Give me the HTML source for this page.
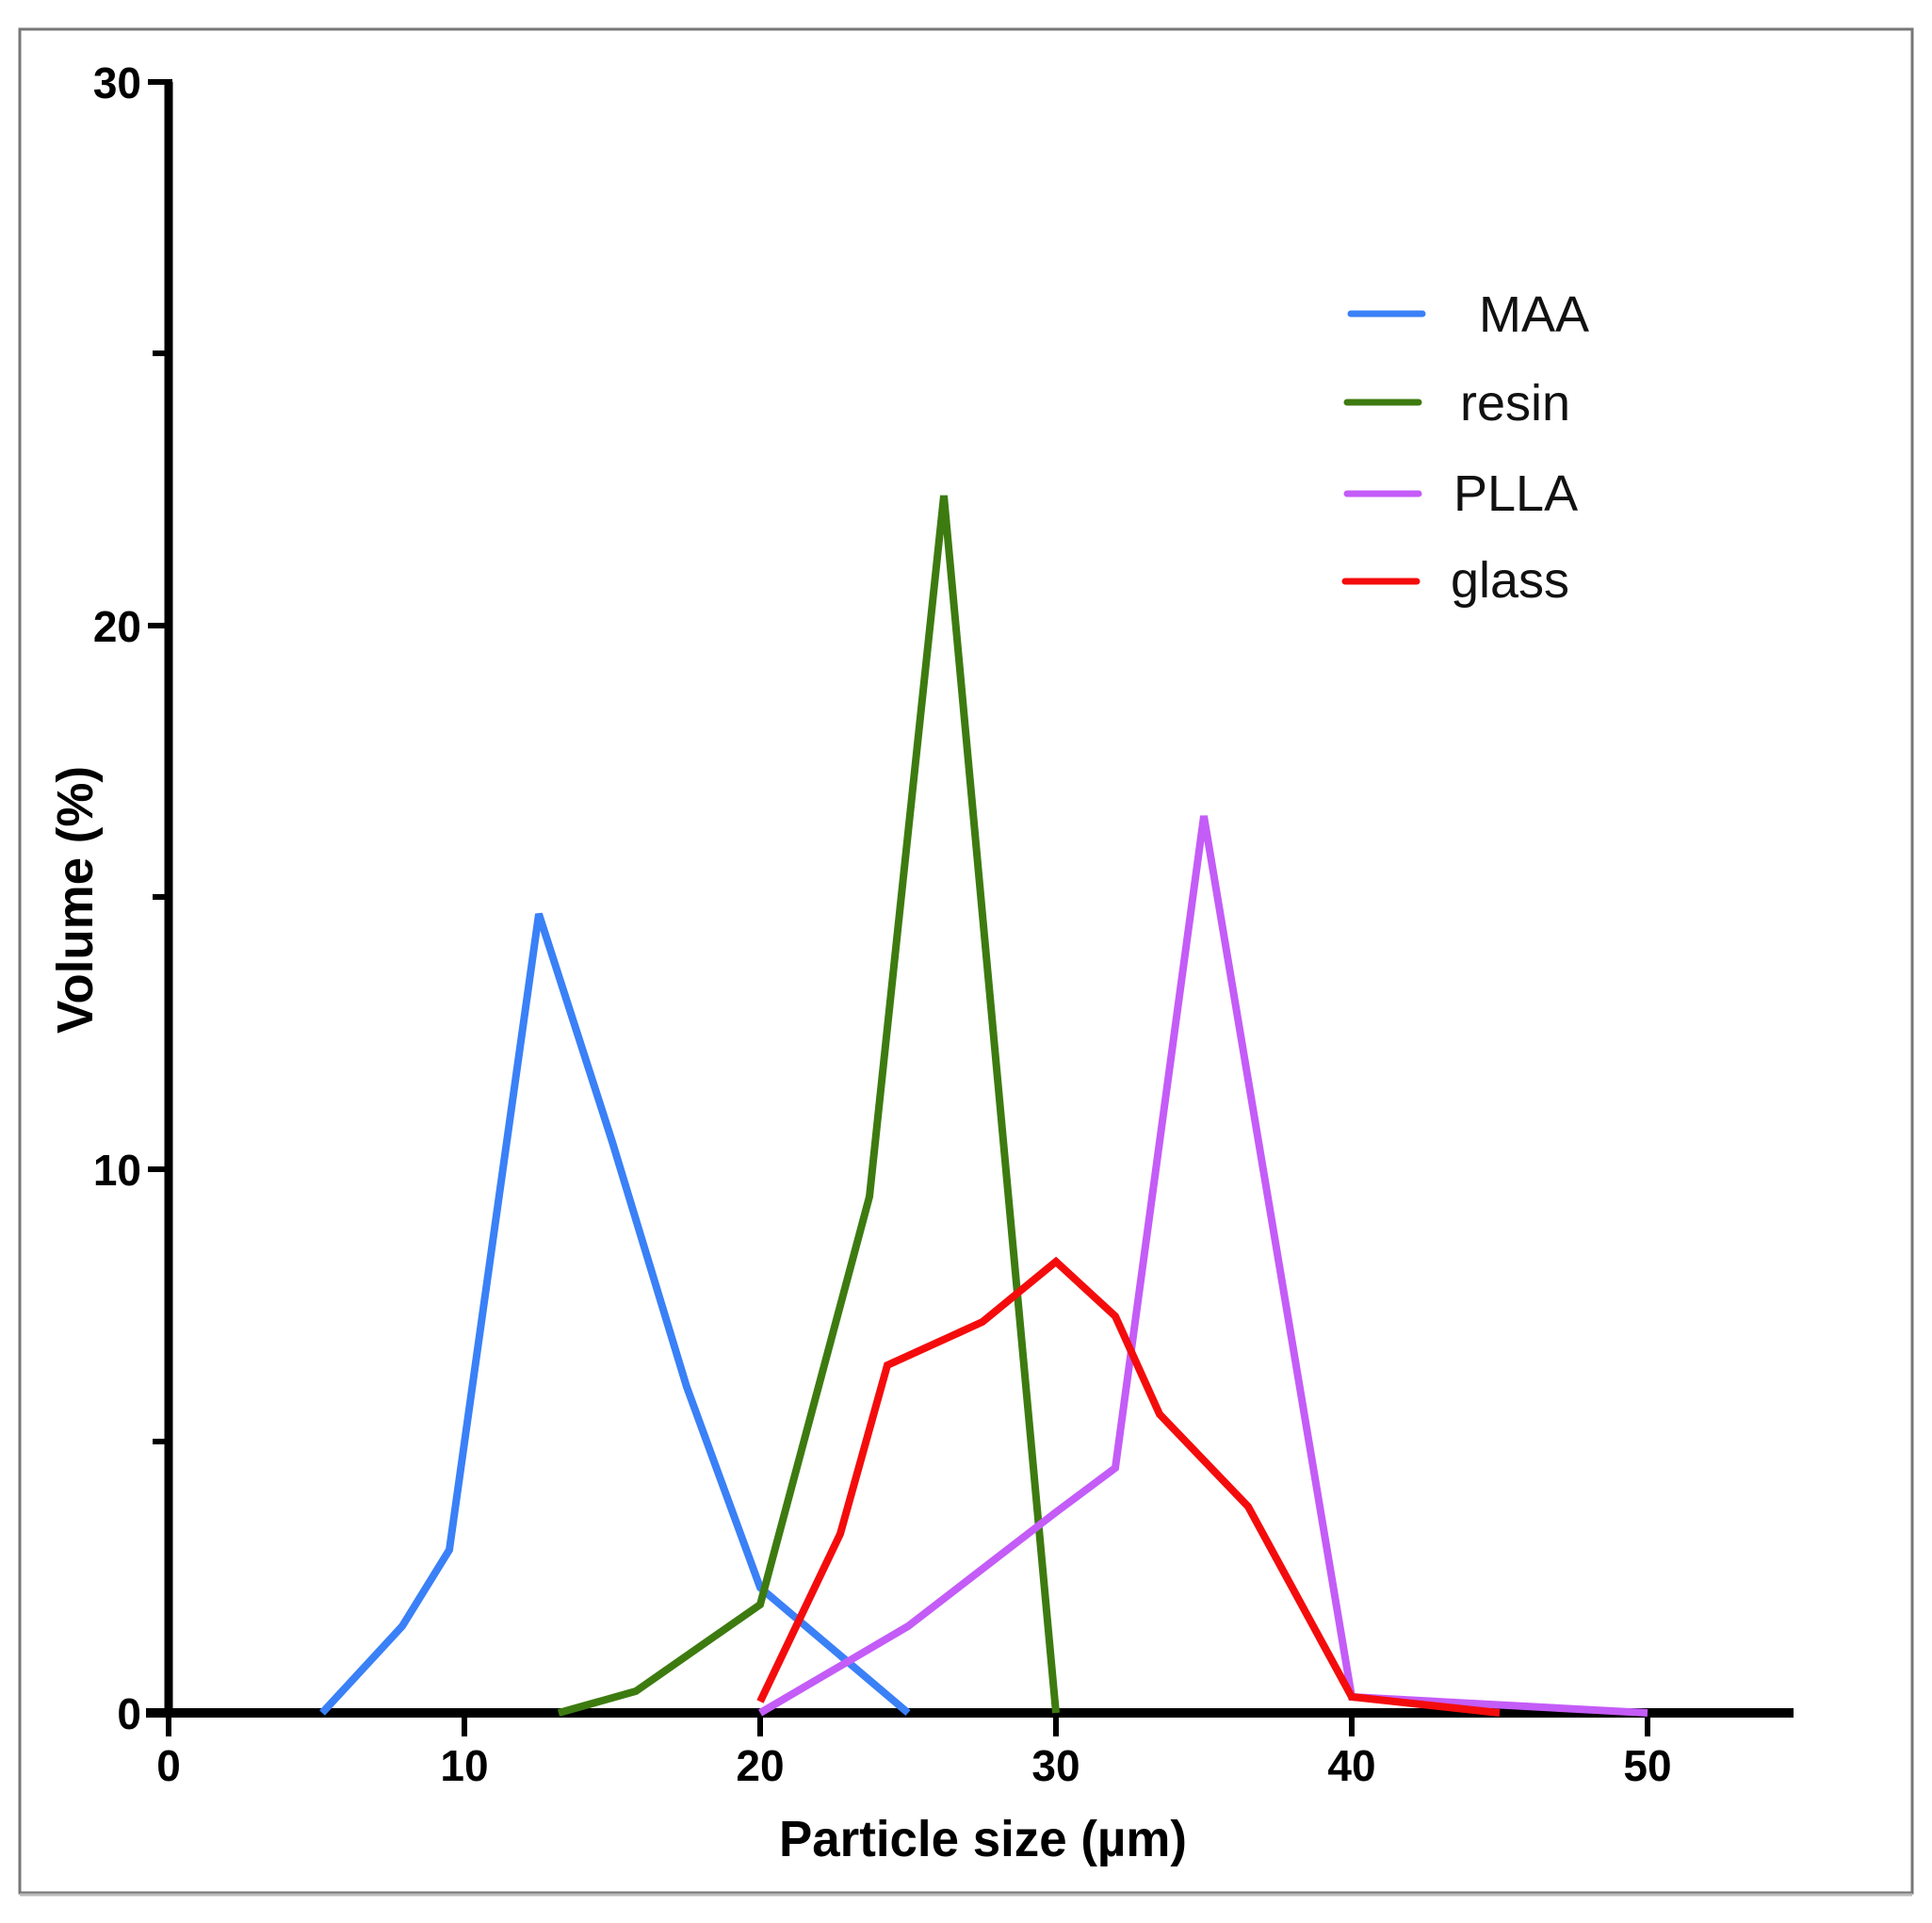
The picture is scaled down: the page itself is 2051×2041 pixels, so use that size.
<!DOCTYPE html>
<html><head><meta charset="utf-8"><style>html,body{margin:0;padding:0;background:#fff}svg{display:block}</style></head>
<body>
<svg width="2051" height="2041" viewBox="0 0 2051 2041" xmlns="http://www.w3.org/2000/svg" font-family="Liberation Sans, Arial, sans-serif">
<rect x="0" y="0" width="2051" height="2041" fill="#fff"/>
<rect x="21" y="31" width="2009" height="1978" fill="none" stroke="#777" stroke-width="3"/>
<line x1="21" y1="2011" x2="2030" y2="2011" stroke="#bbb" stroke-width="3"/>
<line x1="179" y1="87" x2="179" y2="1823" stroke="#000" stroke-width="9"/>
<line x1="155" y1="1818" x2="1904" y2="1818" stroke="#000" stroke-width="10"/>
<g stroke="#000" stroke-width="6">
<line x1="157" y1="87" x2="183" y2="87"/>
<line x1="162" y1="375" x2="179" y2="375"/>
<line x1="157" y1="664" x2="179" y2="664"/>
<line x1="162" y1="952" x2="179" y2="952"/>
<line x1="157" y1="1241" x2="179" y2="1241"/>
<line x1="162" y1="1530" x2="179" y2="1530"/>
<line x1="179" y1="1818" x2="179" y2="1843"/>
<line x1="493" y1="1818" x2="493" y2="1843"/>
<line x1="807" y1="1818" x2="807" y2="1843"/>
<line x1="1121" y1="1818" x2="1121" y2="1843"/>
<line x1="1435" y1="1818" x2="1435" y2="1843"/>
<line x1="1749" y1="1818" x2="1749" y2="1843"/>
</g>
<g font-size="46" font-weight="bold" fill="#000" text-anchor="end">
<text x="150" y="104">30</text>
<text x="150" y="681">20</text>
<text x="150" y="1258">10</text>
<text x="150" y="1835">0</text>
</g>
<g font-size="46" font-weight="bold" fill="#000" text-anchor="middle">
<text x="179" y="1890">0</text>
<text x="493" y="1890">10</text>
<text x="807" y="1890">20</text>
<text x="1121" y="1890">30</text>
<text x="1435" y="1890">40</text>
<text x="1749" y="1890">50</text>
</g>
<text x="827" y="1970" font-size="54" font-weight="bold" textLength="433" lengthAdjust="spacingAndGlyphs">Particle size (µm)</text>
<text transform="translate(98,1097) rotate(-90)" font-size="54" font-weight="bold" textLength="284" lengthAdjust="spacingAndGlyphs">Volume (%)</text>
<g fill="none" stroke-width="8" stroke-linejoin="miter">
<polyline stroke="#3a80f7" points="342,1818 427,1726 477,1645 572,970 650,1212 729,1472 807,1685 964,1818"/>
<polyline stroke="#3d7b10" points="593,1818 675,1795 807,1703 923,1270 1002,526 1121,1818"/>
<polyline stroke="#c45cf8" points="807,1818 964,1726 1121,1605 1184,1558 1278,866 1435,1801 1749,1818"/>
<polyline stroke="#f40c0c" points="807,1806 892,1628 942,1449 1043,1403 1121,1339 1184,1397 1231,1501 1325,1599 1435,1801 1592,1818"/>
</g>
<g stroke-width="7" stroke-linecap="round">
<line x1="1434" y1="333" x2="1510" y2="333" stroke="#3a80f7"/>
<line x1="1430" y1="427" x2="1506" y2="427" stroke="#3d7b10"/>
<line x1="1430" y1="524" x2="1506" y2="524" stroke="#c45cf8"/>
<line x1="1428" y1="617" x2="1504" y2="617" stroke="#f40c0c"/>
</g>
<g font-size="54" fill="#111">
<text x="1570" y="352">MAA</text>
<text x="1550" y="446">resin</text>
<text x="1543" y="542">PLLA</text>
<text x="1540" y="634">glass</text>
</g>
</svg>
</body></html>
